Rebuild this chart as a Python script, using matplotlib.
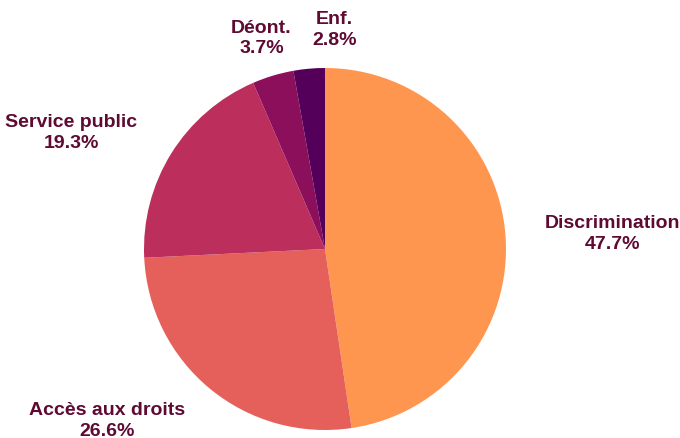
import matplotlib
matplotlib.use("Agg")
import matplotlib.pyplot as plt
import numpy as np

labels = ["Discrimination", "Accès aux droits", "Service public", "Déont.", "Enf."]
values = [47.7, 26.6, 19.3, 3.7, 2.8]
colors = ["#FF9650", "#E5605A", "#BC2F5C", "#8C0F5C", "#54005A"]
# horizontal nudge (px) so the two small labels at the top do not collide
nudge_px = [0, 0, 0, 0, 29]
text_color = "#5E0A33"

plt.rcParams['font.family'] = ['Liberation Sans', 'DejaVu Sans']

fig = plt.figure(figsize=(6.8, 4.39), dpi=100)
ax = fig.add_axes([0, 0, 1, 1])

wedges, _ = ax.pie(values, colors=colors, startangle=90, counterclock=False,
                   radius=1.0, wedgeprops=dict(linewidth=0))

r_px = 181.0
ax.set_xlim(-325 / r_px, (680 - 325) / r_px)
ax.set_ylim(-189 / r_px, (439 - 189) / r_px)
ax.axis("off")

# labels sit at 1.22 r, aligned away from the pie
for w, lab, v, dx in zip(wedges, labels, values, nudge_px):
    ang = np.deg2rad((w.theta1 + w.theta2) / 2)
    x, y = 1.22 * np.cos(ang), 1.22 * np.sin(ang)
    if abs(np.cos(ang)) < 0.35:
        ha = "center"
    elif x > 0:
        ha = "left"
    else:
        ha = "right"
    ax.annotate(f"{lab}\n{v:.1f}%", (x, y), xytext=(dx * 0.72, 0),
                textcoords="offset points", ha=ha, va="center",
                multialignment="center", fontsize=14, fontweight="bold",
                color=text_color, linespacing=1.3)

fig.savefig("out.png", dpi=100)
